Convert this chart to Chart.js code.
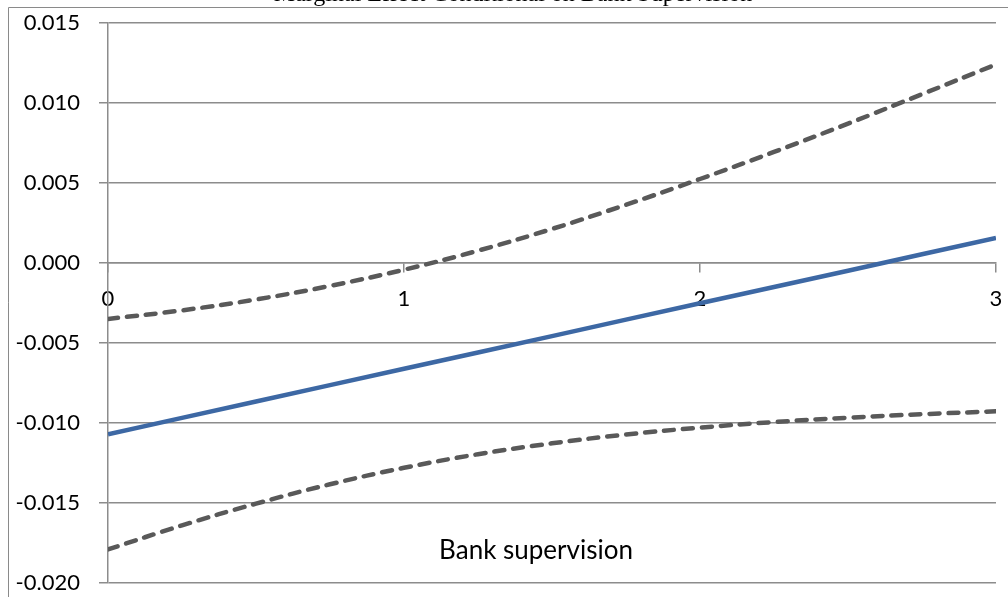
<!DOCTYPE html>
<html>
<head>
<meta charset="utf-8">
<script src="https://cdn.jsdelivr.net/npm/chart.js@4/dist/chart.umd.min.js"></script>
<style>
  html, body { margin: 0; padding: 0; background: #ffffff; }
  #wrap { width: 1008px; height: 597px; position: relative; }
</style>
</head>
<body>
<div id="wrap"><canvas id="chart" width="1008" height="597"></canvas></div>
<script>
// Bank supervision index (x) and the estimated marginal effect with its confidence bounds
const supervision = [0, 0.25, 0.5, 0.75, 1, 1.25, 1.5, 1.75, 2, 2.25, 2.5, 2.75, 3];
const marginalEffect = [-0.01070, -0.00968, -0.00866, -0.00763, -0.00661, -0.00559, -0.00457,
                        -0.00354, -0.00252, -0.00150, -0.00048, 0.00055, 0.00157];
const upperBound = [-0.00350, -0.00296, -0.00228, -0.00143, -0.00042, 0.00077, 0.00213,
                    0.00364, 0.00525, 0.00694, 0.00871, 0.01055, 0.01241];
const lowerBound = [-0.01790, -0.01640, -0.01504, -0.01383, -0.01280, -0.01195, -0.01127,
                    -0.01072, -0.01029, -0.00994, -0.00967, -0.00945, -0.00927];

const xTickValues = [0, 1, 2, 3];
const yTickValues = [-0.020, -0.015, -0.010, -0.005, 0.000, 0.005, 0.010, 0.015];

const chartTitle = 'Marginal Effect Conditional on Bank Supervision';
const axisCaption = 'Bank supervision';

const toPoints = (ys) => supervision.map((x, i) => ({ x: x, y: ys[i] }));

const labelFont = { family: 'Lato, "Open Sans", sans-serif', size: 22 };
const axisGray = '#8c8c8c';

// Frame lines, the clipped heading and the in-plot axis caption
const decorations = {
  id: 'decorations',
  beforeDraw(chart) {
    const ctx = chart.ctx;
    ctx.save();
    ctx.fillStyle = '#ffffff';
    ctx.fillRect(0, 0, chart.width, chart.height);
    ctx.strokeStyle = '#8a8a8a';
    ctx.lineWidth = 1;
    ctx.beginPath();
    ctx.moveTo(8.5, chart.height);
    ctx.lineTo(8.5, 7.5);
    ctx.lineTo(chart.width, 7.5);
    ctx.stroke();
    ctx.restore();
  },
  afterDraw(chart) {
    const ctx = chart.ctx;
    const area = chart.chartArea;
    ctx.save();
    ctx.fillStyle = '#000000';
    ctx.font = '24px "Liberation Serif", "Times New Roman", serif';
    ctx.textAlign = 'center';
    ctx.textBaseline = 'alphabetic';
    ctx.fillText(chartTitle, 513, 1);

    ctx.font = '26px Lato, "Open Sans", sans-serif';
    ctx.textAlign = 'center';
    ctx.textBaseline = 'middle';
    ctx.fillText(axisCaption, area.left + (area.right - area.left) * 0.482, area.bottom - 32);
    ctx.restore();
  }
};

new Chart(document.getElementById('chart'), {
  type: 'line',
  data: {
    datasets: [
      {
        label: 'Upper bound',
        data: toPoints(upperBound),
        borderColor: '#595959',
        borderWidth: 4.5,
        borderDash: [10, 9],
        borderCapStyle: 'round',
        pointRadius: 0,
        tension: 0.4,
        fill: false
      },
      {
        label: 'Lower bound',
        data: toPoints(lowerBound),
        borderColor: '#595959',
        borderWidth: 4.5,
        borderDash: [10, 9],
        borderCapStyle: 'round',
        pointRadius: 0,
        tension: 0.4,
        fill: false
      },
      {
        label: 'Marginal effect',
        data: toPoints(marginalEffect),
        borderColor: '#3d68a4',
        borderWidth: 4.5,
        pointRadius: 0,
        tension: 0,
        fill: false
      }
    ]
  },
  options: {
    responsive: false,
    animation: false,
    devicePixelRatio: 1,
    layout: { padding: { left: 0, top: 23, right: 12, bottom: 14 } },
    plugins: {
      legend: { display: false },
      title: { display: false },
      tooltip: { enabled: false }
    },
    scales: {
      x: {
        type: 'linear',
        position: { y: 0 },
        min: 0,
        max: 3,
        afterBuildTicks(scale) { scale.ticks = xTickValues.map(v => ({ value: v })); },
        afterFit(scale) { scale.paddingLeft = 0; scale.paddingRight = 0; },
        ticks: {
          font: labelFont,
          color: '#000000',
          padding: 14,
          maxRotation: 0,
          callback: (v) => String(v)
        },
        grid: {
          display: true,
          drawOnChartArea: false,
          drawTicks: true,
          tickLength: 9,
          color: axisGray,
          lineWidth: 1.5
        },
        border: { display: true, color: axisGray, width: 1.5 }
      },
      y: {
        type: 'linear',
        min: -0.020,
        max: 0.015,
        afterBuildTicks(scale) { scale.ticks = yTickValues.map(v => ({ value: v })); },
        afterFit(scale) {
          scale.width = 108;
          scale.paddingTop = 0;
          scale.paddingBottom = 0;
        },
        ticks: {
          font: labelFont,
          color: '#000000',
          padding: 19,
          callback: (v) => v.toFixed(3)
        },
        grid: {
          color: axisGray,
          lineWidth: 1.5,
          drawTicks: true,
          tickLength: 9
        },
        border: { display: true, color: axisGray, width: 1.5 }
      }
    }
  },
  plugins: [decorations]
});
</script>
</body>
</html>
